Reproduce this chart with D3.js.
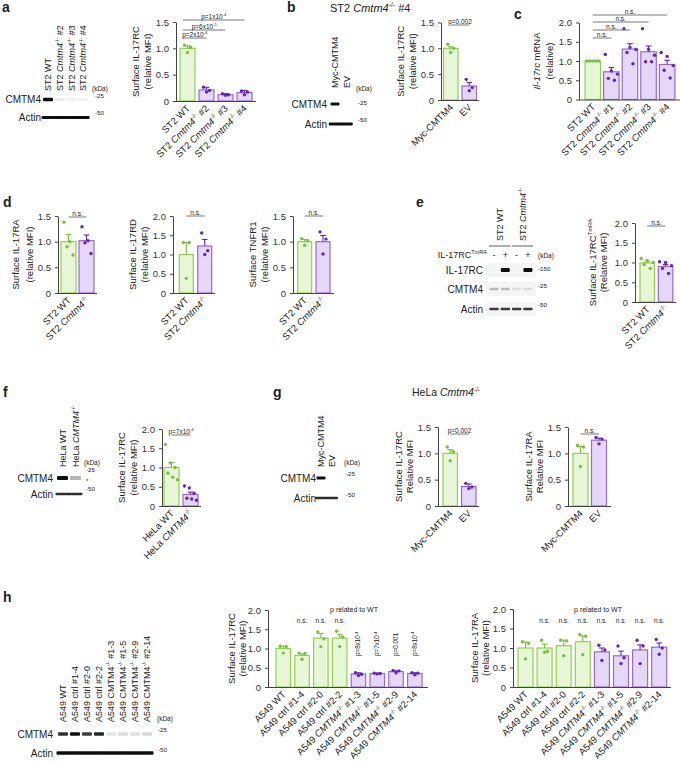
<!DOCTYPE html>
<html><head><meta charset="utf-8">
<script src="https://cdn.jsdelivr.net/npm/d3@7"></script>
<style>body{margin:0;background:#fff} svg{display:block} text,tspan{font-family:"Liberation Sans",Arial,Helvetica,sans-serif;fill:#222}</style>
</head><body><svg id="fig" width="681" height="762"></svg>
<script>
// ================= DATA =================
// panel a
const aCats = ["ST2 WT","ST2 ~Cmtm4~^-/-^ #2","ST2 ~Cmtm4~^-/-^ #3","ST2 ~Cmtm4~^-/-^ #4"];
const aGroups = ["wt","ko","ko","ko"];
const aMeans = [1.0,0.21,0.12,0.16];
const aErrs = [0.05,0.05,0.02,0.04];
const aPoints = [[1.06,1.02,0.92],[0.26,0.20,0.17],[0.14,0.12,0.11],[0.19,0.17,0.12]];
const aTicks = [0,0.5,1.0,1.5];
const aSig = [["p=2x10^-4^",0,1],["p=6x10^-5^",0,2],["p=1x10^-4^",0,3]];
const aBlotLanes = ["ST2 WT","ST2 ~Cmtm4~^-/-^ #2","ST2 ~Cmtm4~^-/-^ #3","ST2 ~Cmtm4~^-/-^ #4"];
const aBlotCMTM4 = [1,0.08,0.05,0.05];
const aBlotActin = [1,1,1,1];
// panel b
const bCats = ["Myc-CMTM4","EV"];
const bGroups = ["wt","ko"];
const bMeans = [1.0,0.27];
const bErrs = [0.03,0.07];
const bPoints = [[1.08,1.0,0.92],[0.40,0.24,0.18]];
const bTicks = [0,0.5,1.0,1.5];
const bSig = [["p=0.002",0,1]];
const bBlotLanes = ["Myc-CMTM4","EV"];
const bBlotCMTM4 = [1,0];
const bBlotActin = [1,1];
// panel c
const cCats = ["ST2 WT","ST2 ~Cmtm4~^-/-^ #1","ST2 ~Cmtm4~^-/-^ #2","ST2 ~Cmtm4~^-/-^ #3","ST2 ~Cmtm4~^-/-^ #4"];
const cGroups = ["wt","ko","ko","ko","ko"];
const cMeans = [1.0,0.72,1.31,1.24,0.91];
const cErrs = [0,0.11,0.14,0.15,0.11];
const cPoints = [[1,1,1,1,1],[1.17,0.74,0.66,0.55,0.50],[1.84,1.35,1.30,1.22,0.93],[1.84,1.30,1.15,0.98,0.98],[1.22,1.12,0.88,0.76,0.56]];
const cTicks = [0,0.5,1.0,1.5,2.0];
const cSig = [["n.s.",0,1],["n.s.",0,2],["n.s.",0,3],["n.s.",0,4]];
// panel d
const dCats = ["ST2 WT","ST2 ~Cmtm4~^-/-^"];
const dGroups = ["wt","ko"];
const d1Means = [1.0,1.02], d1Errs = [0.14,0.11];
const d1Points = [[1.38,1.0,0.9,0.74],[1.29,1.02,0.98,0.77]];
const d2Means = [1.0,1.22], d2Errs = [0.31,0.17];
const d2Points = [[1.31,1.31,0.38],[1.56,1.1,1.0]];
const d3Means = [1.0,1.0], d3Errs = [0.04,0.12];
const d3Points = [[1.06,1.02,0.93],[1.19,1.05,0.76]];
const d1Ticks = [0,0.5,1.0,1.5], d2Ticks = [0,0.5,1.0,1.5,2.0], d3Ticks = [0,0.5,1.0,1.5];
const nsSig = [["n.s.",0,1]];
// panel e
const eCats = ["ST2 WT","ST2 ~Cmtm4~^-/-^"];
const eMeans = [0.99,0.90], eErrs = [0.04,0.05];
const ePoints = [[1.10,1.05,1.0,0.95,0.85],[1.02,1.0,0.92,0.85,0.72]];
const eTicks = [0,0.5,1.0,1.5,2.0];
const eBlotGroups = ["ST2 WT","ST2 ~Cmtm4~^-/-^"];
const eBlotSigns = ["-","+","-","+"];
const eBlotIL17RC = [0,1,0,1];
const eBlotCMTM4 = [0.25,0.25,0.1,0.1];
const eBlotActin = [0.8,0.8,0.8,0.8];
// panel f
const fCats = ["HeLa WT","HeLa ~CMTM4~^-/-^"];
const fMeans = [1.0,0.30], fErrs = [0.13,0.06];
const fPoints = [[1.6,1.12,1.0,0.85,0.75,0.68],[0.52,0.47,0.33,0.2,0.18,0.15]];
const fTicks = [0,0.5,1.0,1.5,2.0];
const fSig = [["p=7x10^-4^",0,1]];
const fBlotLanes = ["HeLa WT","HeLa ~CMTM4~^-/-^"];
const fBlotCMTM4 = [1,0.3];
const fBlotActin = [0.85,0.85];
// panel g
const gCats = ["Myc-CMTM4","EV"];
const g1Means = [1.0,0.37], g1Errs = [0.07,0.05];
const g1Points = [[1.12,1.03,0.86],[0.43,0.36,0.33]];
const g2Means = [1.0,1.25], g2Errs = [0.13,0.04];
const g2Points = [[1.15,1.12,0.75],[1.30,1.27,1.18]];
const gTicks = [0,0.5,1.0,1.5];
const g1Sig = [["p=0.002",0,1]];
const gBlotLanes = ["Myc-CMTM4","EV"];
const gBlotCMTM4 = [1,0];
const gBlotActin = [0.85,0.85];
// panel h
const hCats = ["A549 WT","A549 ctrl #1-4","A549 ctrl #2-0","A549 ctrl #2-2","A549 ~CMTM4~^-/-^ #1-3","A549 ~CMTM4~^-/-^ #1-5","A549 ~CMTM4~^-/-^ #2-9","A549 ~CMTM4~^-/-^ #2-14"];
const hBlotLanes = ["A549 WT","A549 ctrl #1-4","A549 ctrl #2-0","A549 ctrl #2-2","A549 CMTM4^-/-^ #1-3","A549 CMTM4^-/-^ #1-5","A549 CMTM4^-/-^ #2-9","A549 CMTM4^-/-^ #2-14"];
const hGroups = ["wt","wt","wt","wt","ko","ko","ko","ko"];
const h1Means = [1.0,0.82,1.27,1.27,0.34,0.35,0.40,0.35];
const h1Errs = [0.06,0.04,0.12,0.09,0.03,0.01,0.02,0.02];
const h1Points = [[1.06,1.05,0.88],[0.88,0.87,0.72],[1.43,1.25,1.05],[1.45,1.3,1.05],[0.37,0.33,0.30],[0.36,0.35,0.34],[0.43,0.42,0.37],[0.37,0.36,0.32]];
const h1Annot = ["","n.s.","n.s.","n.s.","p=8x10^-4^","p=7x10^-4^","p=0.001","p=8x10^-4^"];
const h2Means = [1.0,1.0,1.06,1.16,0.90,0.80,0.95,1.02];
const h2Errs = [0.15,0.10,0.14,0.15,0.10,0.12,0.13,0.11];
const h2Points = [[1.16,1.12,0.72],[1.2,0.91,0.89],[1.2,1.18,0.8],[1.35,1.3,0.83],[1.07,0.95,0.68],[1.05,0.75,0.6],[1.2,1.05,0.6],[1.22,1.0,0.84]];
const h2Annot = ["","n.s.","n.s.","n.s.","n.s.","n.s.","n.s.","n.s."];
const hTicks = [0,0.5,1.0,1.5,2.0];
const hBlotCMTM4 = [0.85,1,0.8,0.9,0.1,0.14,0.12,0.16];
const hBlotActin = [1,1,1,1,1,1,1,1];

// ================= DRAWING =================
const FONT = '"Liberation Sans", Arial, Helvetica, sans-serif';
const COL = {
  wt: {fill:"#e7f6d6", stroke:"#8fd24e", dot:"#77c23a"},
  ko: {fill:"#e5d7f7", stroke:"#9a68d6", dot:"#6424c2"}
};
const svg = d3.select("#fig");
svg.append("rect").attr("width",681).attr("height",762).attr("fill","#fff");
const defs = svg.append("defs");
defs.append("filter").attr("id","blur").attr("x","-50%").attr("y","-50%").attr("width","200%").attr("height","200%")
  .append("feGaussianBlur").attr("stdDeviation",0.55);

function rich(sel, str, fs){
  sel.text(null);
  let it=false, sup=false, buf="", parts=[];
  const flush=()=>{ if(buf) parts.push({t:buf,it,sup}); buf=""; };
  for (const ch of str){ if(ch==="~"){flush(); it=!it;} else if(ch==="^"){flush(); sup=!sup;} else buf+=ch; }
  flush();
  let cur=0;
  parts.forEach(p=>{
    const target = p.sup ? -fs*0.42 : 0;
    sel.append("tspan").text(p.t).attr("font-size", p.sup? fs*0.62 : fs)
      .attr("font-style", p.it?"italic":null).attr("dy", target-cur);
    cur=target;
  });
  return sel;
}
function txt(x,y,str,fs,anchor){
  const t = svg.append("text").attr("x",x).attr("y",y).attr("font-size",fs).attr("text-anchor",anchor||"start");
  return rich(t,str,fs);
}
function rtxt(x,y,str,fs,angle,anchor){
  const t = svg.append("text").attr("transform",`translate(${x},${y}) rotate(${angle})`).attr("font-size",fs).attr("text-anchor",anchor||"start");
  return rich(t,str,fs);
}

function offsets(n){
  const s = n>=5 ? 6 : (n===4 ? 4.5 : 3);
  const base = d3.range(n).map(i => n===1?0:-s + 2*s*i/(n-1));
  const order = d3.range(n).map(i => (i*2) % n + (n%2===0 && i*2>=n ? 1:0));
  return d3.range(n).map(i => base[order[i] % n]);
}

function chart(c){
  const g = svg.append("g");
  const n = c.cats.length;
  const gap = c.step - c.barW;
  const x = d3.scaleBand().domain(d3.range(n))
    .range([c.barStart - gap/2, c.barStart - gap/2 + n*c.step])
    .paddingInner(gap/c.step).paddingOuter(gap/c.step/2);
  const y = d3.scaleLinear().domain([0,c.max]).range([c.y0,c.yTop]);
  const cx = i => x(i) + x.bandwidth()/2;
  g.selectAll("rect.bar").data(c.means).join("rect").attr("class","bar")
    .attr("x",(d,i)=>x(i)).attr("y",d=>y(d)).attr("width",x.bandwidth()).attr("height",d=>c.y0-y(d))
    .attr("fill",(d,i)=>COL[c.groups[i]].fill).attr("stroke",(d,i)=>COL[c.groups[i]].stroke).attr("stroke-width",1.2);
  c.means.forEach((m,i)=>{
    const e = c.errs[i]; if(!e) return;
    const col = COL[c.groups[i]].dot;
    g.append("line").attr("x1",cx(i)).attr("x2",cx(i)).attr("y1",y(m)).attr("y2",y(m+e)).attr("stroke",col).attr("stroke-width",1.1);
    g.append("line").attr("x1",cx(i)-2.8).attr("x2",cx(i)+2.8).attr("y1",y(m+e)).attr("y2",y(m+e)).attr("stroke",col).attr("stroke-width",1.1);
  });
  c.points.forEach((pts,i)=>{
    const off = offsets(pts.length);
    g.selectAll(null).data(pts).join("circle")
      .attr("cx",(d,j)=>cx(i)+off[j]).attr("cy",d=>y(d)).attr("r",1.7)
      .attr("fill",COL[c.groups[i]].dot);
  });
  const ax = g.append("g").attr("transform",`translate(${c.x0},0)`)
    .call(d3.axisLeft(y).tickValues(c.ticks).tickSize(3).tickSizeOuter(0).tickPadding(4)
      .tickFormat(d=>d===0?"0":d3.format(".1f")(d)));
  ax.attr("font-family",FONT).attr("font-size",c.tickFs||9.5);
  ax.selectAll("path,line").attr("stroke","#444");
  ax.selectAll("text").style("fill","#333");
  g.append("line").attr("x1",c.x0).attr("x2",c.axisEnd).attr("y1",c.y0+0.5).attr("y2",c.y0+0.5).attr("stroke","#444");
  c.cats.forEach((lab,i)=>{ rtxt(cx(i)+3, c.y0+8, lab, c.xFs||9.5, -45, "end"); });
  const ym = (c.y0+c.yTop)/2;
  const dx = c.ylabDx || [-37,-25];
  c.ylab.forEach((l,k)=>{ rtxt(c.x0+dx[k], ym, l, c.yFs||9.5, -90, "middle"); });
  (c.sig||[]).forEach((s,k)=>{
    const ly = c.sigY[k];
    const x1 = cx(s[1]) - (c.sigStartDx||0), x2 = cx(s[2]);
    g.append("line").attr("x1",x1).attr("x2",x2).attr("y1",ly).attr("y2",ly).attr("stroke","#555").attr("stroke-width",0.8);
    txt((x1+x2)/2, ly-1.5, s[0], c.sigFs||6.5, "middle");
  });
  if(c.annot){
    c.annot.forEach((a,i)=>{
      if(!a) return;
      if(a.startsWith("p")) rtxt(cx(i)+2, c.annotPY, a, 6.3, -90, "start");
      else txt(cx(i), c.annotNY, a, 6.5, "middle");
    });
    txt((c.x0+c.axisEnd)/2+6, c.annotTitleY, "p related to WT", 7, "middle");
  }
  return {x,y,cx};
}

function blot(b){
  const lx = i => b.x0 + i*b.step;
  if(b.lanes){
    b.lanes.forEach((l,i)=> rtxt(lx(i)+3.2, b.labBottom, l, b.labFs||9, -90, "start"));
  }
  b.rows.forEach(r=>{
    if(r.bg) svg.append("rect").attr("x",lx(0)-b.step*0.7).attr("y",r.y-7).attr("width",b.step*(r.vals.length-1)+b.step*1.4).attr("height",14).attr("fill","#f5f5f5");
    r.vals.forEach((v,i)=>{
      if(v<=0) return;
      svg.append("rect").attr("x",lx(i)-r.w/2).attr("y",r.y-r.h/2).attr("width",r.w).attr("height",r.h)
        .attr("rx",1).attr("fill","#111").attr("opacity",v).attr("filter","url(#blur)");
    });
    txt(b.labRight, r.y+3.5, r.name, 10, "end");
  });
  txt(b.kda[0], b.kda[1], "(kDa)", 6.5, "start");
  b.marks.forEach(m=> txt(b.markX, m[1], m[0], 6.2, "start"));
}

[["a",2,12],["b",287,12],["c",514,19],["d",3,207],["e",416,207],["f",3,397],["g",273,397],["h",3,602]]
  .forEach(p=> svg.append("text").attr("x",p[1]).attr("y",p[2]).attr("font-size",14).attr("font-weight","bold").text(p[0]));

// ---- a
blot({x0:48, step:11.7, lanes:aBlotLanes, labBottom:91, labRight:41,
  rows:[{name:"CMTM4",y:99.5,vals:aBlotCMTM4,w:10,h:3.5},{name:"Actin",y:117.5,vals:aBlotActin,w:13,h:3}],
  kda:[92,91], markX:95, marks:[["-25",98],["-50",115]]});
chart({cats:aCats,groups:aGroups,means:aMeans,errs:aErrs,points:aPoints,ticks:aTicks,max:1.5,
  x0:176,barStart:180,step:19,barW:15,axisEnd:256,y0:101,yTop:22,
  ylab:["Surface IL-17RC","(relative MFI)"], sig:aSig, sigY:[38,30,20], sigStartDx:4.5});

// ---- b
txt(330,12,"ST2 ~Cmtm4~^-/-^ #4",11,"start");
blot({x0:335, step:11.5, lanes:bBlotLanes, labBottom:88, labRight:327,
  rows:[{name:"CMTM4",y:104,vals:bBlotCMTM4,w:9,h:3},{name:"Actin",y:124,vals:bBlotActin,w:12.5,h:3}],
  kda:[356,91], markX:358, marks:[["-25",105],["-50",122]]});
chart({cats:bCats,groups:bGroups,means:bMeans,errs:bErrs,points:bPoints,ticks:bTicks,max:1.5,
  x0:441,barStart:443.5,step:18.5,barW:14.5,axisEnd:479,y0:100,yTop:22.5,
  ylab:["Surface IL-17RC","(relative MFI)"], sig:bSig, sigY:[25]});

// ---- c
chart({cats:cCats,groups:cGroups,means:cMeans,errs:cErrs,points:cPoints,ticks:cTicks,max:2,
  x0:579,barStart:585,step:18.6,barW:15.5,axisEnd:680,y0:99.5,yTop:22.5,
  ylab:["~Il-17rc~ mRNA","(relative)"], ylabDx:[-39,-26], sig:cSig, sigY:[38,30,22,15]});

// ---- d
chart({cats:dCats,groups:dGroups,means:d1Means,errs:d1Errs,points:d1Points,ticks:d1Ticks,max:1.5,
  x0:58,barStart:61,step:18,barW:15,axisEnd:97,y0:293,yTop:216,
  ylab:["Surface IL-17RA","(relative MFI)"], ylabDx:[-39,-25], sig:nsSig, sigY:[217]});
chart({cats:dCats,groups:dGroups,means:d2Means,errs:d2Errs,points:d2Points,ticks:d2Ticks,max:2,
  x0:173,barStart:179.3,step:18.4,barW:14,axisEnd:215,y0:293,yTop:216,
  ylab:["Surface IL-17RD","(relative MFI)"], sig:nsSig, sigY:[216]});
chart({cats:dCats,groups:dGroups,means:d3Means,errs:d3Errs,points:d3Points,ticks:d3Ticks,max:1.5,
  x0:293,barStart:297.7,step:18.3,barW:14,axisEnd:334,y0:293,yTop:216,
  ylab:["Surface TNFR1","(relative MFI)"], sig:nsSig, sigY:[216]});

// ---- e
(function(){
  const x0 = 494, st = 11.3;
  const lx = i => x0 + i*st;
  eBlotGroups.forEach((gl,k)=>{
    const cxm = (lx(2*k)+lx(2*k+1))/2;
    rtxt(cxm+3.5, 241, gl, 9, -90, "start");
    svg.append("line").attr("x1",lx(2*k)-5).attr("x2",lx(2*k+1)+5).attr("y1",246).attr("y2",246).attr("stroke","#333").attr("stroke-width",0.8);
  });
  txt(487,258,"IL-17RC^TmRA^",9,"end");
  eBlotSigns.forEach((s,i)=> txt(lx(i),258,s,9,"middle"));
})();
blot({x0:494, step:11.3, labRight:483,
  rows:[{name:"IL-17RC",y:270,vals:eBlotIL17RC,w:9,h:4,bg:true},
        {name:"CMTM4",y:289,vals:eBlotCMTM4,w:9,h:2.5,bg:true},
        {name:"Actin",y:309,vals:eBlotActin,w:9.5,h:2.5,bg:true}],
  kda:[538,258], markX:538, marks:[["-150",271],["-25",288],["-50",307]]});
chart({cats:eCats,groups:dGroups,means:eMeans,errs:eErrs,points:ePoints,ticks:eTicks,max:2,
  x0:635,barStart:640,step:18.3,barW:14.5,axisEnd:676,y0:302,yTop:223,
  ylab:["Surface IL-17RC^TmRA^","(Relative MFI)"], ylabDx:[-39,-28], sig:nsSig, sigY:[226]});

// ---- f
blot({x0:62.5, step:13, lanes:fBlotLanes, labBottom:467, labRight:53,
  rows:[{name:"CMTM4",y:478,vals:fBlotCMTM4,w:11,h:4},{name:"Actin",y:494,vals:fBlotActin,w:14,h:2.5}],
  kda:[84,465], markX:86, marks:[["-25",472],["*",483],["-50",491]]});
chart({cats:fCats,groups:dGroups,means:fMeans,errs:fErrs,points:fPoints,ticks:fTicks,max:2,
  x0:162,barStart:164,step:19,barW:15,axisEnd:201,y0:506,yTop:429,
  ylab:["Surface IL-17RC","(relative MFI)"], sig:fSig, sigY:[435]});

// ---- g
txt(412,396,"HeLa ~Cmtm4~^-/-^",10.5,"start");
blot({x0:321, step:11, lanes:gBlotLanes, labBottom:467, labRight:316,
  rows:[{name:"CMTM4",y:478,vals:gBlotCMTM4,w:9,h:3},{name:"Actin",y:498,vals:gBlotActin,w:12,h:2.5}],
  kda:[344,465], markX:346, marks:[["-25",476],["-50",497]]});
chart({cats:gCats,groups:bGroups,means:g1Means,errs:g1Errs,points:g1Points,ticks:gTicks,max:1.5,
  x0:438,barStart:443,step:18.5,barW:14.5,axisEnd:479,y0:506,yTop:427,
  ylab:["Surface IL-17RC","Relative MFI"], ylabDx:[-36,-25], sig:g1Sig, sigY:[434]});
chart({cats:gCats,groups:bGroups,means:g2Means,errs:g2Errs,points:g2Points,ticks:gTicks,max:1.5,
  x0:568,barStart:573,step:18.5,barW:15,axisEnd:611,y0:506,yTop:427,
  ylab:["Surface IL-17RA","Relative MFI"], ylabDx:[-36,-25], sig:nsSig, sigY:[434]});

// ---- h
blot({x0:63, step:12, lanes:hBlotLanes, labBottom:722, labRight:53,
  rows:[{name:"CMTM4",y:734,vals:hBlotCMTM4,w:10,h:3.5},{name:"Actin",y:753,vals:hBlotActin,w:13,h:3.5}],
  kda:[157,721], markX:158, marks:[["-25",732],["-50",752]]});
chart({cats:hCats,groups:hGroups,means:h1Means,errs:h1Errs,points:h1Points,ticks:hTicks,max:2,
  x0:268,barStart:276,step:18.8,barW:14.5,axisEnd:428,y0:687,yTop:610,
  ylab:["Surface IL-17RC","(relative MFI)"], ylabDx:[-33,-22],
  annot:h1Annot, annotPY:656, annotNY:623, annotTitleY:612});
chart({cats:hCats,groups:hGroups,means:h2Means,errs:h2Errs,points:h2Points,ticks:hTicks,max:2,
  x0:513,barStart:518,step:19.1,barW:15,axisEnd:671,y0:687,yTop:609,
  ylab:["Surface IL-17RA","(relative MFI)"], ylabDx:[-35,-24],
  annot:h2Annot, annotPY:656, annotNY:623, annotTitleY:612});
</script></body></html>
